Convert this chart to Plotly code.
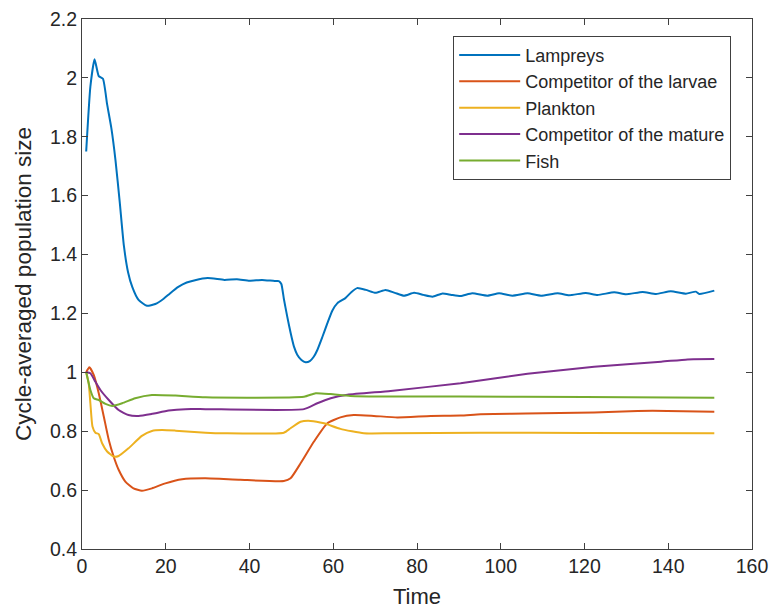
import plotly.graph_objects as go

# ---- data ----
t_lamprey = [1, 2, 3, 4, 5, 6, 7, 8, 9, 10, 11, 12, 13.5, 15.5, 17.5, 19.5, 21, 23, 25, 27, 30, 34, 37,
             40, 43, 46, 47, 47.6, 48.2, 49, 49.8, 50.6, 51.4, 52.4, 53.4, 54.4, 55.3, 56.2, 57.4, 58.6,
             59.8, 61, 62.9, 64.3, 65.7, 67.8, 70.1, 72.5, 74.7, 76.9, 79.3, 81.5, 83.7, 86.1, 88.2,
             90.4, 93.2, 96.8, 99.6, 102.8, 106.4, 109.6, 113.6, 116.3, 120.3, 123.1, 127.1, 129.9,
             133.9, 137.1, 140.6, 144.2, 146.6, 147.4, 151]
lampreys = [1.75, 1.97, 2.063, 2.006, 1.997, 1.91, 1.83, 1.72, 1.58, 1.43, 1.34, 1.29, 1.246, 1.226,
            1.232, 1.25, 1.268, 1.29, 1.305, 1.313, 1.32, 1.314, 1.316, 1.311, 1.314, 1.31, 1.31, 1.30,
            1.25, 1.19, 1.135, 1.088, 1.06, 1.042, 1.034, 1.038, 1.052, 1.076, 1.12, 1.167, 1.21,
            1.235, 1.252, 1.272, 1.286, 1.28, 1.27, 1.28, 1.27, 1.26, 1.27, 1.263, 1.257, 1.268, 1.263,
            1.259, 1.2685, 1.2605, 1.2685, 1.2605, 1.2685, 1.2605, 1.2685, 1.2617, 1.2696, 1.2628,
            1.2719, 1.2651, 1.273, 1.2662, 1.2753, 1.2673, 1.2741, 1.2662, 1.2775]

t_larvae = [1, 1.75, 2.8, 4, 5.2, 6.4, 7.55, 8.75, 10.35, 12.3, 14.3, 16.7, 19.9, 23.9, 29.5, 37.8,
            48.2, 49.8, 52.2, 55.4, 58.6, 61.7, 64.9, 69.7, 75.3, 83.3, 90.4, 95.2, 106, 122.3, 132.7,
            139.8, 151]
comp_larvae = [1.0, 1.017, 0.991, 0.929, 0.85, 0.77, 0.714, 0.669, 0.629, 0.606, 0.598, 0.606, 0.623,
               0.637, 0.64, 0.635, 0.631, 0.64, 0.691, 0.765, 0.827, 0.847, 0.855, 0.852, 0.847, 0.852,
               0.853, 0.858, 0.86, 0.864, 0.869, 0.869, 0.866]

t_plankton = [1, 1.6, 2, 2.5, 3.2, 4, 4.8, 6, 7.55, 8.75, 11.1, 14.3, 16.7, 19.1, 22.3, 29.5, 33.9,
              48.2, 49.8, 52.2, 54.6, 57.8, 61.7, 67.3, 73.7, 95, 120, 151]
plankton = [1.0, 0.963, 0.895, 0.816, 0.795, 0.79, 0.759, 0.731, 0.714, 0.716, 0.742, 0.784, 0.801,
            0.804, 0.802, 0.795, 0.793, 0.795, 0.81, 0.832, 0.835, 0.827, 0.808, 0.793, 0.793, 0.795,
            0.794, 0.793]

t_mature = [1, 2, 3.2, 4.4, 6.4, 8.75, 11.1, 13.5, 16.7, 20.7, 24.7, 29.5, 53, 56.2, 59.4, 63.4, 73.7,
            90.4, 106.4, 122.3, 138.3, 144.6, 151]
comp_mature = [1.0, 0.997, 0.968, 0.94, 0.906, 0.872, 0.855, 0.852, 0.859, 0.87, 0.875, 0.875, 0.875,
               0.895, 0.912, 0.924, 0.937, 0.963, 0.995, 1.019, 1.036, 1.044, 1.045]

t_fish = [1, 2, 2.8, 4, 5.6, 7.2, 9.6, 12.7, 16.7, 22.3, 29.5, 53, 55.8, 59.4, 64.1, 73.7, 90, 120, 151]
fish = [1.0, 0.94, 0.912, 0.906, 0.893, 0.886, 0.895, 0.912, 0.923, 0.921, 0.915, 0.917, 0.929, 0.926,
        0.92, 0.918, 0.918, 0.916, 0.914]

names = ["Lampreys", "Competitor of the larvae", "Plankton", "Competitor of the mature", "Fish"]
colors = ["#0072BD", "#D95319", "#EDB120", "#7E2F8E", "#77AC30"]
series = [(t_lamprey, lampreys), (t_larvae, comp_larvae), (t_plankton, plankton),
          (t_mature, comp_mature), (t_fish, fish)]

x_ticks = [0, 20, 40, 60, 80, 100, 120, 140, 160]
y_ticks = [0.4, 0.6, 0.8, 1.0, 1.2, 1.4, 1.6, 1.8, 2.0, 2.2]
y_tick_text = ["0.4", "0.6", "0.8", "1", "1.2", "1.4", "1.6", "1.8", "2", "2.2"]

FONT = "Liberation Sans, Arial"
TXT = "#262626"

fig = go.Figure()
for (tx, ty), name, col in zip(series, names, colors):
    fig.add_trace(go.Scatter(x=tx, y=ty, mode="lines", name=name,
                             line=dict(color=col, width=2, shape="spline", smoothing=0.5)))

axis_common = dict(showline=True, linecolor="#404040", linewidth=1, mirror="ticks",
                   ticks="inside", ticklen=6, tickcolor="#404040", showgrid=False, zeroline=False,
                   automargin=False,
                   tickfont=dict(family=FONT, size=19.5, color=TXT))

fig.update_layout(
    width=769, height=609,
    margin=dict(l=82, r=17, t=19, b=60),
    paper_bgcolor="white", plot_bgcolor="white",
    xaxis=dict(range=[0, 160], tickvals=x_ticks,
               title=dict(text="Time", standoff=14, font=dict(family=FONT, size=22, color=TXT)),
               **axis_common),
    yaxis=dict(range=[0.4, 2.2], tickvals=y_ticks, ticktext=y_tick_text,
               title=dict(text="Cycle-averaged population size", standoff=12,
                          font=dict(family=FONT, size=22.5, color=TXT)),
               **axis_common),
    legend=dict(x=0.554, y=0.9685, xanchor="left", yanchor="top",
                bgcolor="white", bordercolor="#404040", borderwidth=1,
                font=dict(family=FONT, size=18, color=TXT),
                itemwidth=61, tracegroupgap=0),
    showlegend=True,
)

fig.write_html("out.html")
